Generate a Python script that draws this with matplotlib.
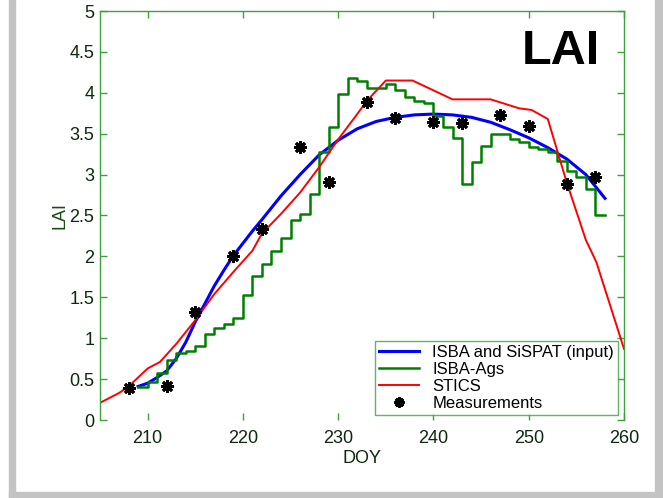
import matplotlib
matplotlib.use("Agg")
import matplotlib.pyplot as plt
from matplotlib.patches import Rectangle
import numpy as np

plt.rcParams["font.family"] = ["Liberation Sans", "DejaVu Sans"]

# ISBA and SiSPAT (input) - smooth curve
isba_doy = [209, 210, 211, 212, 213, 214, 215, 216, 217, 218, 219, 220, 221,
            222, 224, 226, 228, 230, 232, 234, 236, 238, 240, 242, 244, 246,
            248, 250, 252, 254, 256, 258]
isba_lai = [0.41, 0.45, 0.52, 0.60, 0.75, 0.95, 1.20, 1.42, 1.64, 1.83, 2.01,
            2.16, 2.31, 2.45, 2.74, 3.00, 3.24, 3.42, 3.56, 3.65, 3.70, 3.73,
            3.74, 3.73, 3.70, 3.64, 3.55, 3.45, 3.33, 3.19, 3.00, 2.71]

# ISBA-Ags - daily steps
ags_doy = list(range(209, 259))
ags_lai = [0.40, 0.47, 0.58, 0.73, 0.82, 0.84, 0.90, 1.05, 1.12, 1.17,
           1.25, 1.53, 1.76, 1.91, 2.07, 2.23, 2.45, 2.52, 2.76, 3.28,
           3.58, 3.98, 4.18, 4.14, 4.06, 4.06, 4.11, 4.04, 3.95, 3.90,
           3.87, 3.72, 3.58, 3.45, 2.88, 3.16, 3.35, 3.50, 3.50, 3.43,
           3.40, 3.34, 3.31, 3.28, 3.17, 3.04, 2.97, 2.83, 2.51, 2.51]

# STICS
stics_doy = [205, 207, 208, 210, 211.3, 213, 215, 217, 219, 221, 222, 224, 226,
             228, 230, 232, 233, 235, 237.8, 242, 246, 249, 250.3, 252, 254,
             256, 257.1, 260]
stics_lai = [0.21, 0.33, 0.41, 0.63, 0.71, 0.93, 1.22, 1.54, 1.81, 2.07, 2.28,
             2.52, 2.78, 3.09, 3.43, 3.74, 3.90, 4.15, 4.15, 3.92, 3.92, 3.81,
             3.79, 3.68, 2.90, 2.20, 1.93, 0.87]

# Measurements
meas_doy = [208, 212, 215, 219, 222, 226, 229, 233, 236, 240, 243, 247, 250, 254, 257]
meas_lai = [0.39, 0.41, 1.32, 2.01, 2.33, 3.34, 2.91, 3.89, 3.69, 3.64, 3.63,
            3.73, 3.59, 2.89, 2.97]

axis_green = "#3aa33a"
text_dark = "#0c2a0c"

fig = plt.figure(figsize=(6.63, 4.98), dpi=100)
ax = fig.add_axes([100 / 663, 1 - 420 / 498, 524 / 663, 409 / 498])

ax.plot(isba_doy, isba_lai, color="#0000ff", lw=2.2, label="ISBA and SiSPAT (input)")
ax.plot(ags_doy, ags_lai, color="#008000", lw=1.8, drawstyle="steps-post", label="ISBA-Ags")
ax.plot(stics_doy, stics_lai, color="#ff0000", lw=1.4, label="STICS")
ax.plot(meas_doy, meas_lai, ls="none", marker=(8, 2, 0), ms=9, mew=2,
        color="black", label="Measurements")

ax.set_xlim(205, 260)
ax.set_ylim(0, 5)
ax.set_xticks([210, 220, 230, 240, 250, 260])
ax.set_yticks([0, 0.5, 1, 1.5, 2, 2.5, 3, 3.5, 4, 4.5, 5])
ax.set_yticklabels(["0", "0.5", "1", "1.5", "2", "2.5", "3", "3.5", "4", "4.5", "5"])

for side in ["left", "top", "right"]:
    ax.spines[side].set_color(axis_green)
    ax.spines[side].set_linewidth(1.0)
ax.spines["bottom"].set_visible(False)
ax.tick_params(direction="in", top=True, right=True, color=axis_green,
               length=5, width=1, labelsize=13, labelcolor=text_dark, pad=4)
ax.tick_params(axis="x", pad=7)

ax.set_xlabel("DOY", fontsize=13, color=text_dark, labelpad=2)
ax.set_ylabel("LAI", fontsize=13, color="#1a4a1a", labelpad=1)

ax.text(0.955, 0.955, "LAI", transform=ax.transAxes, fontsize=35,
        fontweight="bold", ha="right", va="top", color="black")

leg = ax.legend(loc="lower right", bbox_to_anchor=(0.989, 0.012), fontsize=12,
                frameon=True, fancybox=False, handlelength=2.4,
                borderpad=0.25, labelspacing=0.12, handletextpad=0.8,
                borderaxespad=0, markerscale=0.8)
leg.get_frame().set_edgecolor(axis_green)
leg.get_frame().set_linewidth(1.0)

# grey frame round the picture
W, H = 663, 498
fig.patches.append(Rectangle((9 / W, 0), 6 / W, 1, transform=fig.transFigure,
                             color="#c3c3c3", zorder=0))
fig.patches.append(Rectangle((655 / W, 0), 8 / W, 1, transform=fig.transFigure,
                             color="#c3c3c3", zorder=0))
fig.patches.append(Rectangle((9 / W, 0), 654 / W, 6 / H, transform=fig.transFigure,
                             color="#c3c3c3", zorder=0))

fig.savefig("out.png", dpi=100)
